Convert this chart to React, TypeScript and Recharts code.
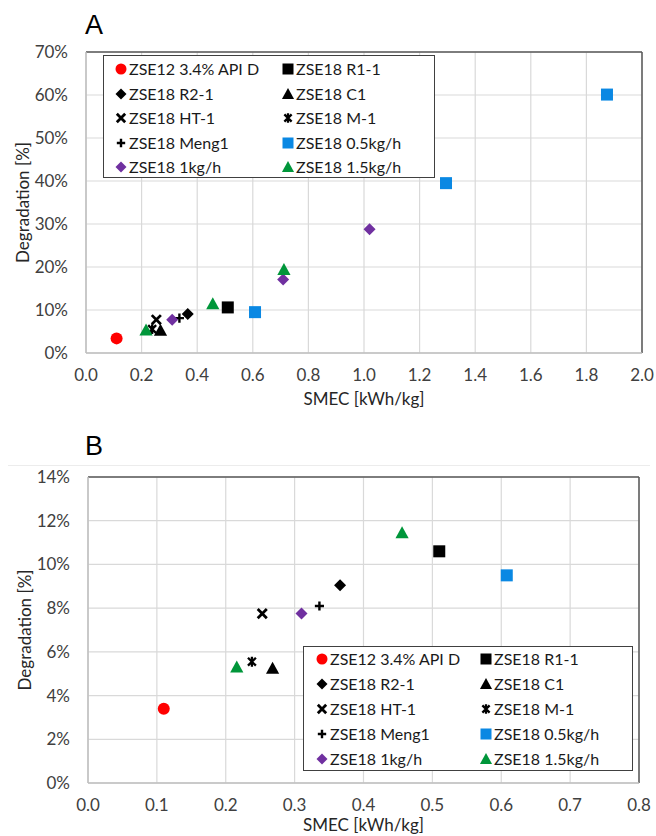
import React from "react"
import {
  ScatterChart,
  Scatter,
  XAxis,
  YAxis,
  CartesianGrid,
  ReferenceLine,
  Legend,
  Label,
} from "recharts"

const FONT = "Lato, 'Open Sans', sans-serif"

// SMEC [kWh/kg] / degradation [%]
const apiDSmec = [0.11]
const apiDDeg = [3.4]
const r11Smec = [0.51]
const r11Deg = [10.6]
const r21Smec = [0.366]
const r21Deg = [9.05]
const c1Smec = [0.268]
const c1Deg = [5.25]
const ht1Smec = [0.253]
const ht1Deg = [7.75]
const m1Smec = [0.238]
const m1Deg = [5.55]
const meng1Smec = [0.336]
const meng1Deg = [8.1]
const rate05Smec = [0.608, 1.295, 1.874]
const rate05Deg = [9.5, 39.5, 60.1]
const rate1Smec = [0.31, 0.709, 1.02]
const rate1Deg = [7.75, 17.1, 28.8]
const rate15Smec = [0.216, 0.456, 0.712]
const rate15Deg = [5.3, 11.45, 19.4]

const xTicksA = [0, 0.2, 0.4, 0.6, 0.8, 1.0, 1.2, 1.4, 1.6, 1.8, 2.0]
const yTicksA = [0, 10, 20, 30, 40, 50, 60, 70]
const xTicksB = [0, 0.1, 0.2, 0.3, 0.4, 0.5, 0.6, 0.7, 0.8]
const yTicksB = [0, 2, 4, 6, 8, 10, 12, 14]

type Kind = "circle" | "square" | "diamond" | "triangle" | "x" | "star" | "plus"

const toPoints = (xs: number[], ys: number[]) => xs.map((x, i) => ({ x, y: ys[i] }))

const series: { name: string; kind: Kind; color: string; data: { x: number; y: number }[] }[] = [
  { name: "ZSE12 3.4% API D", kind: "circle", color: "#FF0000", data: toPoints(apiDSmec, apiDDeg) },
  { name: "ZSE18 R1-1", kind: "square", color: "#000000", data: toPoints(r11Smec, r11Deg) },
  { name: "ZSE18 R2-1", kind: "diamond", color: "#000000", data: toPoints(r21Smec, r21Deg) },
  { name: "ZSE18 C1", kind: "triangle", color: "#000000", data: toPoints(c1Smec, c1Deg) },
  { name: "ZSE18 HT-1", kind: "x", color: "#000000", data: toPoints(ht1Smec, ht1Deg) },
  { name: "ZSE18 M-1", kind: "star", color: "#000000", data: toPoints(m1Smec, m1Deg) },
  { name: "ZSE18 Meng1", kind: "plus", color: "#000000", data: toPoints(meng1Smec, meng1Deg) },
  { name: "ZSE18 0.5kg/h", kind: "square", color: "#0A88E3", data: toPoints(rate05Smec, rate05Deg) },
  { name: "ZSE18 1kg/h", kind: "diamond", color: "#7030A0", data: toPoints(rate1Smec, rate1Deg) },
  { name: "ZSE18 1.5kg/h", kind: "triangle", color: "#00963A", data: toPoints(rate15Smec, rate15Deg) },
]

function marker(kind: Kind, color: string, cx: number, cy: number, s: number) {
  const h = s / 2
  switch (kind) {
    case "circle":
      return <circle cx={cx} cy={cy} r={h} fill={color} />
    case "square":
      return <rect x={cx - h} y={cy - h} width={s} height={s} fill={color} />
    case "diamond":
      return (
        <polygon
          points={`${cx},${cy - h} ${cx + h},${cy} ${cx},${cy + h} ${cx - h},${cy}`}
          fill={color}
        />
      )
    case "triangle":
      return (
        <polygon
          points={`${cx},${cy - s * 0.55} ${cx + s * 0.55},${cy + s * 0.45} ${cx - s * 0.55},${cy + s * 0.45}`}
          fill={color}
        />
      )
    case "x": {
      const d = s * 0.38
      return (
        <path
          d={`M${cx - d},${cy - d}L${cx + d},${cy + d}M${cx + d},${cy - d}L${cx - d},${cy + d}`}
          stroke={color}
          strokeWidth={2.8}
        />
      )
    }
    case "star": {
      const d = s * 0.33
      return (
        <path
          d={`M${cx - d},${cy - d}L${cx + d},${cy + d}M${cx + d},${cy - d}L${cx - d},${cy + d}M${cx},${cy - d - 1}L${cx},${cy + d + 1}`}
          stroke={color}
          strokeWidth={2.3}
        />
      )
    }
    default: {
      const d = s * 0.38
      return (
        <path
          d={`M${cx - d},${cy}L${cx + d},${cy}M${cx},${cy - d}L${cx},${cy + d}`}
          stroke={color}
          strokeWidth={2.4}
        />
      )
    }
  }
}

const LegendBox = ({ width, height, rowTop, rowGap, cols }: any) => (
  <div
    style={{
      position: "relative",
      width,
      height,
      boxSizing: "border-box",
      border: "1.5px solid #404040",
      background: "#fff",
      fontFamily: FONT,
      fontSize: 16,
      color: "#1a1a1a",
    }}
  >
    {series.map((s, i) => {
      const col = cols[i % 2]
      const top = rowTop + Math.floor(i / 2) * rowGap
      return (
        <div key={s.name}>
          <svg
            width={14}
            height={14}
            style={{ position: "absolute", left: col - 7, top: top - 7 }}
          >
            {marker(s.kind, s.color, 7, 7, 11)}
          </svg>
          <span
            style={{
              position: "absolute",
              left: col + 8,
              top: top - 10,
              lineHeight: "20px",
              whiteSpace: "nowrap",
            }}
          >
            {s.name}
          </span>
        </div>
      )
    })}
  </div>
)

const tickStyle = { fontSize: 17, fill: "#404040", fontFamily: FONT }

// eslint-disable-next-line @typescript-eslint/no-explicit-any
const YTitle = ({ viewBox }: any) => {
  const { x, y, width, height } = viewBox
  const tx = x + width - 64
  const ty = y + height / 2
  return (
    <text
      x={tx}
      y={ty}
      transform={`rotate(-90 ${tx} ${ty})`}
      textAnchor="middle"
      dominantBaseline="central"
      fontSize={17}
      fontFamily={FONT}
      fill="#262626"
    >
      Degradation [%]
    </text>
  )
}

function Panel({ xMax, yMax, xTicks, yTicks, margin, height, axisH, legend }: any) {
  const fmtX = (v: number) => v.toFixed(1)
  const fmtY = (v: number) => `${v}%`
  return (
    <ScatterChart width={656} height={height} margin={margin}>
      <CartesianGrid stroke="#d9d9d9" strokeWidth={1.2} />
      <XAxis
        type="number"
        dataKey="x"
        domain={[0, xMax]}
        ticks={xTicks}
        tickFormatter={fmtX}
        height={axisH}
        tickLine={false}
        tickSize={6}
        tickMargin={10}
        axisLine={{ stroke: "#bfbfbf", strokeWidth: 1.5 }}
        tick={tickStyle}
        interval={0}
      >
        <Label
          value="SMEC [kWh/kg]"
          position="insideBottom"
          offset={0}
          style={{ fontSize: 17, fontFamily: FONT, fill: "#262626" }}
        />
      </XAxis>
      <YAxis
        type="number"
        dataKey="y"
        domain={[0, yMax]}
        ticks={yTicks}
        tickFormatter={fmtY}
        width={60}
        tickLine={false}
        tickSize={6}
        tickMargin={12}
        axisLine={{ stroke: "#bfbfbf", strokeWidth: 1.5 }}
        tick={tickStyle}
        interval={0}
      >
        <Label content={<YTitle />} />
      </YAxis>
      <ReferenceLine y={yMax} stroke="#595959" strokeWidth={1.5} />
      <ReferenceLine x={xMax} stroke="#595959" strokeWidth={1.5} />
      {series.map((s) => (
        <Scatter
          key={s.name}
          name={s.name}
          data={s.data.filter((p) => p.x <= xMax && p.y <= yMax)}
          fill={s.color}
          isAnimationActive={false}
          // eslint-disable-next-line @typescript-eslint/no-explicit-any
          shape={(p: any) => marker(s.kind, s.color, p.cx, p.cy, 12)}
        />
      ))}
      <Legend
        layout="vertical"
        align="center"
        verticalAlign="middle"
        wrapperStyle={legend.pos}
        content={() => <LegendBox {...legend.box} />}
      />
    </ScatterChart>
  )
}

export default function App() {
  return (
    <div
      style={{
        position: "absolute",
        left: 0,
        top: 0,
        width: 656,
        height: 836,
        background: "#fff",
        overflow: "hidden",
      }}
    >
      <div style={{ position: "absolute", left: 0, top: 0 }}>
        <Panel
          xMax={2}
          yMax={70}
          xTicks={xTicksA}
          yTicks={yTicksA}
          height={410}
          axisH={52}
          margin={{ top: 52, right: 14, bottom: 5, left: 26 }}
          legend={{
            pos: { left: 103, top: 55, width: 332, height: 123 },
            box: { width: 332, height: 123, rowTop: 13, rowGap: 24.5, cols: [17, 184] },
          }}
        />
      </div>
      <div style={{ position: "absolute", left: 0, top: 410 }}>
        <Panel
          xMax={0.8}
          yMax={14}
          xTicks={xTicksB}
          yTicks={yTicksB}
          height={426}
          axisH={48}
          margin={{ top: 67, right: 17, bottom: 5, left: 28 }}
          legend={{
            pos: { left: 303, top: 236, width: 330, height: 125 },
            box: { width: 330, height: 125, rowTop: 12, rowGap: 25, cols: [18, 182] },
          }}
        />
      </div>
      <div
        style={{
          position: "absolute",
          left: 8,
          top: 465,
          width: 642,
          height: 1,
          background: "#ececec",
        }}
      />
      <div
        style={{
          position: "absolute",
          left: 85,
          top: 9,
          fontFamily: "'Liberation Sans', Arial, sans-serif",
          fontSize: 27,
          lineHeight: "32px",
          color: "#000",
        }}
      >
        A
      </div>
      <div
        style={{
          position: "absolute",
          left: 85,
          top: 430,
          fontFamily: "'Liberation Sans', Arial, sans-serif",
          fontSize: 27,
          lineHeight: "32px",
          color: "#000",
        }}
      >
        B
      </div>
    </div>
  )
}
